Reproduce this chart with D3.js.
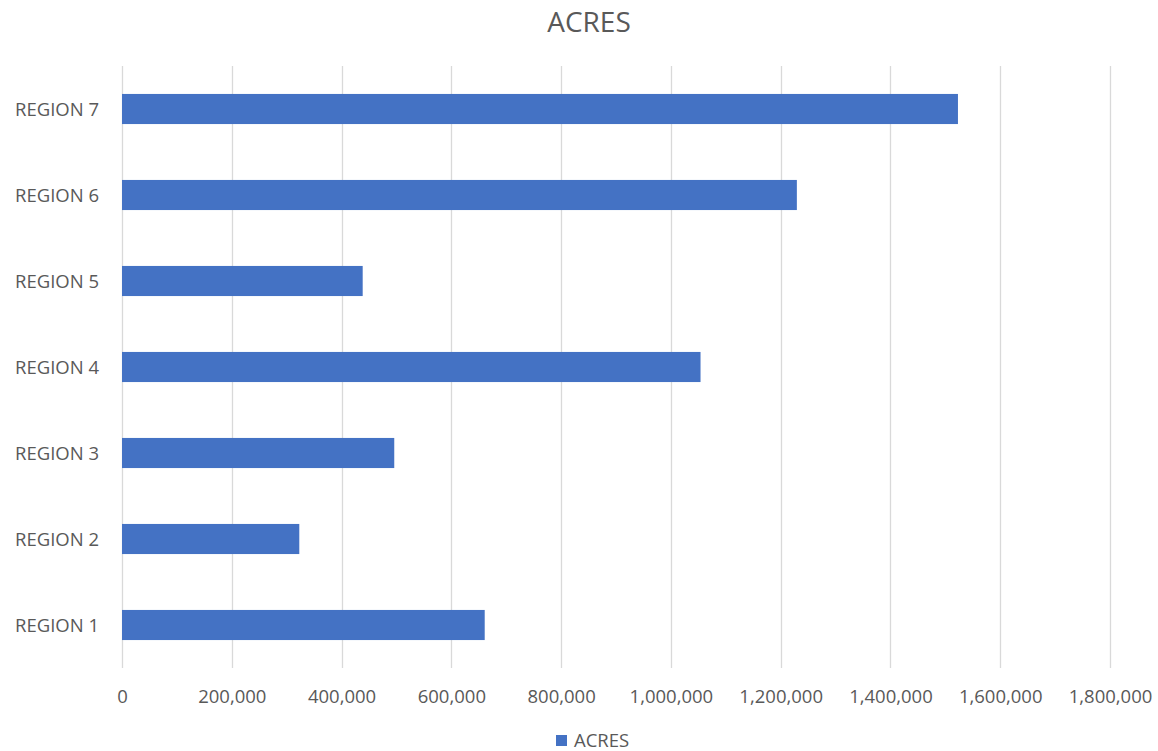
<!DOCTYPE html>
<html>
<head>
<meta charset="utf-8">
<script src="https://cdn.jsdelivr.net/npm/d3@7"></script>
<style>
  html, body { margin: 0; padding: 0; background: #fff; }
  svg { display: block; font-family: "Open Sans", "Liberation Sans", sans-serif; }
</style>
</head>
<body>
<svg id="chart" width="1158" height="751"></svg>
<script>
const categories = ["REGION 1", "REGION 2", "REGION 3", "REGION 4", "REGION 5", "REGION 6", "REGION 7"];
const acres = [660800, 323000, 496000, 1054000, 438500, 1229500, 1523000];
const xTicks = [0, 200000, 400000, 600000, 800000, 1000000, 1200000, 1400000, 1600000, 1800000];
const seriesName = "ACRES";
const title = "ACRES";

const svg = d3.select("#chart");
const margin = { left: 122, right: 48, top: 66, bottom: 83 };
const W = 1158, H = 751;

const x = d3.scaleLinear().domain([0, 1800000]).range([margin.left, W - margin.right]);
const y = d3.scaleBand().domain(categories.slice().reverse()).range([margin.top, H - margin.bottom]).paddingInner(0.65).paddingOuter(0.325);

// gridlines
svg.append("g")
  .selectAll("line")
  .data(xTicks)
  .join("line")
  .attr("x1", d => Math.round(x(d)) + 0.5)
  .attr("x2", d => Math.round(x(d)) + 0.5)
  .attr("y1", margin.top)
  .attr("y2", H - margin.bottom)
  .attr("stroke", "#d9d9d9")
  .attr("stroke-width", 1.3);

// bars
svg.append("g")
  .selectAll("rect")
  .data(categories.map((c, i) => ({ c, v: acres[i] })))
  .join("rect")
  .attr("x", x(0))
  .attr("y", d => y(d.c))
  .attr("width", d => x(d.v) - x(0))
  .attr("height", y.bandwidth())
  .attr("fill", "#4472c4");

// x axis
const xAxis = d3.axisBottom(x).tickValues(xTicks).tickSize(0).tickPadding(0)
  .tickFormat(d3.format(","));
const gx = svg.append("g").attr("transform", `translate(0,${H - margin.bottom})`).call(xAxis);
gx.select(".domain").remove();
gx.selectAll("text")
  .attr("y", 29)
  .attr("dy", "0.35em")
  .attr("fill", "#595959")
  .style("font-size", "18.5px")
  .style("font-family", "'Open Sans', sans-serif");

// y axis
const yAxis = d3.axisLeft(y).tickSize(0).tickPadding(0);
const gy = svg.append("g").attr("transform", `translate(${margin.left},0)`).call(yAxis);
gy.select(".domain").remove();
gy.selectAll("text")
  .attr("x", -107)
  .attr("y", 1)
  .attr("text-anchor", "start")
  .attr("fill", "#595959")
  .style("font-size", "18.5px")
  .style("font-family", "'Open Sans', sans-serif");

// title
svg.append("text")
  .attr("x", 589)
  .attr("y", 22)
  .attr("dy", "0.35em")
  .attr("text-anchor", "middle")
  .attr("fill", "#595959")
  .style("font-size", "28px")
  .text(title);

// legend
const lg = svg.append("g");
lg.append("rect").attr("x", 556).attr("y", 735).attr("width", 11).attr("height", 11).attr("fill", "#4472c4");
lg.append("text").attr("x", 574).attr("y", 741).attr("dy", "0.35em")
  .attr("fill", "#595959").style("font-size", "18.5px").text(seriesName);
</script>
</body>
</html>
